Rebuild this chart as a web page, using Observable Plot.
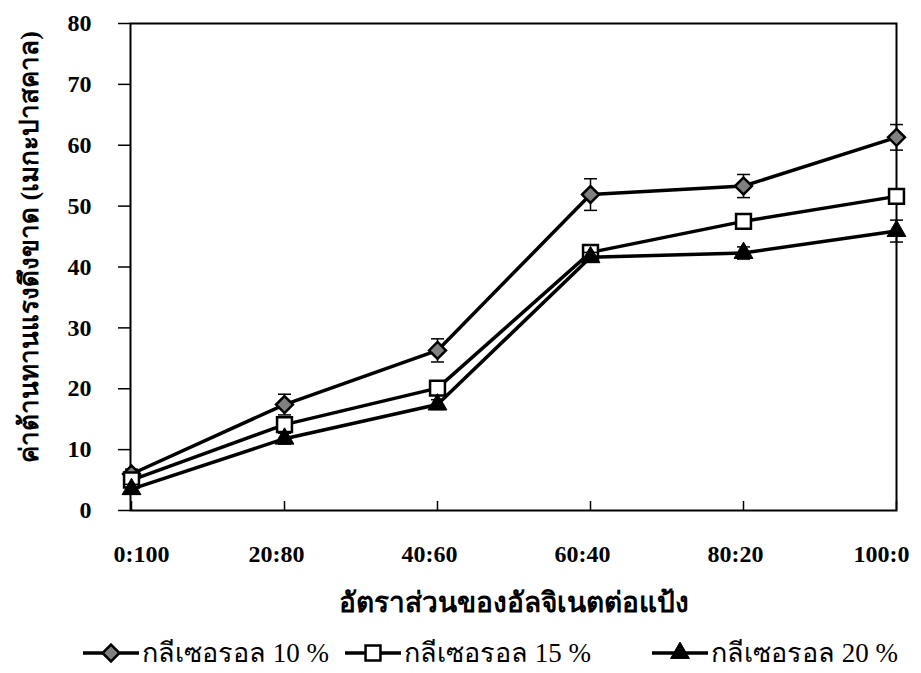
<!DOCTYPE html>
<html>
<head>
<meta charset="utf-8">
<script src="https://cdn.jsdelivr.net/npm/d3@7"></script>
<script src="https://cdn.jsdelivr.net/npm/@observablehq/plot@0.6"></script>
<style>
  html, body { margin: 0; padding: 0; background: #fff; }
  #chart { width: 921px; }
  #legend { position: relative; width: 921px; height: 41px; font-family: "Liberation Serif", "Noto Sans", serif; }
  .item { position: absolute; top: 0; height: 41px; display: flex; align-items: center; }
  .item span { font-size: 27px; color: #000; white-space: nowrap; margin-left: 3px; }
</style>
</head>
<body>
<div id="chart"></div>
<div id="legend"></div>
<script>
// Alginate : starch ratio categories
const categories = ["0:100", "20:80", "40:60", "60:40", "80:20", "100:0"];
const seriesNames = ["กลีเซอรอล 10 %", "กลีเซอรอล 15 %", "กลีเซอรอล 20 %"];
// Tensile strength (MPa), mean values
const glycerol10 = [6.0, 17.4, 26.3, 51.9, 53.3, 61.3];
const glycerol15 = [5.0, 14.1, 20.1, 42.4, 47.5, 51.6];
const glycerol20 = [3.5, 11.8, 17.4, 41.6, 42.3, 45.9];
// Standard deviations
const err10 = [0.8, 1.7, 1.9, 2.6, 1.9, 2.1];
const err15 = [0.6, 0.8, 1.0, 1.0, 1.0, 1.2];
const err20 = [0.8, 0.9, 0.8, 0.8, 1.0, 1.8];
const yTicks = [0, 10, 20, 30, 40, 50, 60, 70, 80];
const xTitle = "อัตราส่วนของอัลจิเนตต่อแป้ง";
const yTitle = "ค่าต้านทานแรงดึงขาด (เมกะปาสคาล)";

const series = [
  {name: seriesNames[0], values: glycerol10, errors: err10, symbol: "diamond2", fill: "#808080", r: 7.6, sw: 2.5},
  {name: seriesNames[1], values: glycerol15, errors: err15, symbol: "square", fill: "#ffffff", r: 8.4, sw: 2.5},
  {name: seriesNames[2], values: glycerol20, errors: err20, symbol: "triangle", fill: "#000000", r: 7.0, sw: 1}
];

const rows = s => categories.map((c, i) => ({
  ratio: c, value: s.values[i], lo: s.values[i] - s.errors[i], hi: s.values[i] + s.errors[i]
}));

// Horizontal cap for the error bars
const cap = {draw(ctx) { ctx.moveTo(-6.5, 0); ctx.lineTo(6.5, 0); }};

const serif = "'Liberation Serif', 'Times New Roman', serif";
const tickFont = {tickSize: 0, tickPadding: 34, fontSize: 24, fontWeight: "bold", label: null};

const seriesMarks = series.flatMap(s => {
  const d = rows(s);
  return [
    Plot.ruleX(d, {x: "ratio", y1: "lo", y2: "hi", stroke: "#000", strokeWidth: 1.5}),
    Plot.dot(d, {x: "ratio", y: "hi", symbol: cap, r: 3, fill: "none", stroke: "#000", strokeWidth: 1.5}),
    Plot.dot(d, {x: "ratio", y: "lo", symbol: cap, r: 3, fill: "none", stroke: "#000", strokeWidth: 1.5}),
    Plot.line(d, {x: "ratio", y: "value", stroke: "#000", strokeWidth: 3.5}),
    Plot.dot(d, {x: "ratio", y: "value", symbol: s.symbol, r: s.r, fill: s.fill, stroke: "#000", strokeWidth: s.sw})
  ];
});

const chart = Plot.plot({
  width: 921,
  height: 632,
  marginTop: 23,
  marginRight: 25,
  marginBottom: 122,
  marginLeft: 130,
  style: {fontFamily: serif, background: "#fff", color: "#000"},
  x: {type: "point", domain: categories, padding: 0},
  y: {domain: [0, 80]},
  marks: [
    Plot.axisY(yTicks, {tickSize: 12, tickPadding: 27, fontSize: 24, fontWeight: "bold", label: null, strokeWidth: 1.5}),
    // category labels sit slightly off their ticks; the end labels are pulled inward
    Plot.axisX(categories.slice(0, 1), {...tickFont, dx: 10}),
    Plot.axisX(categories.slice(1, 5), {...tickFont, dx: -8}),
    Plot.axisX(categories.slice(5), {...tickFont, dx: -15}),
    Plot.tickX(categories, {x: d => d, insetTop: 478, stroke: "#000", strokeWidth: 1.5}),
    Plot.frame({stroke: "#000", strokeWidth: 2}),
    ...seriesMarks,
    Plot.text([xTitle], {frameAnchor: "bottom", dy: 101, fontSize: 28, fontWeight: "bold", fill: "#000"}),
    Plot.text([yTitle], {frameAnchor: "left", textAnchor: "middle", dx: -101, dy: -20, rotate: -90, fontSize: 26, fontWeight: "bold", fill: "#000"})
  ]
});
document.getElementById("chart").append(chart);

// Legend below the chart
const legend = d3.select("#legend");
const lefts = [83, 345, 652];
const symbolTypes = {diamond2: d3.symbolDiamond2, square: d3.symbolSquare, triangle: d3.symbolTriangle};
series.forEach((s, i) => {
  const item = legend.append("div").attr("class", "item").style("left", lefts[i] + "px");
  const svg = item.append("svg").attr("width", 56).attr("height", 24);
  svg.append("line").attr("x1", 0).attr("x2", 56).attr("y1", 12).attr("y2", 12)
    .attr("stroke", "#000").attr("stroke-width", 3.5);
  svg.append("path")
    .attr("transform", "translate(28,12)")
    .attr("d", d3.symbol(symbolTypes[s.symbol], Math.PI * s.r * s.r)())
    .attr("fill", s.fill).attr("stroke", "#000").attr("stroke-width", s.sw);
  item.append("span").text(s.name);
});
</script>
</body>
</html>
